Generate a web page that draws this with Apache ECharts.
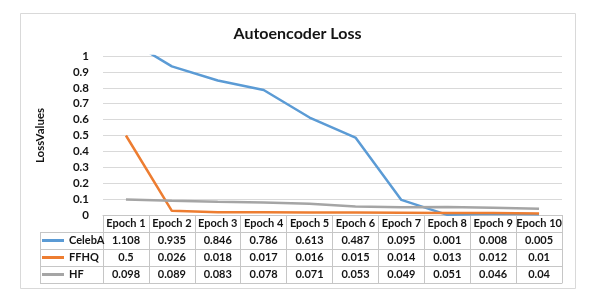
<!DOCTYPE html>
<html><head><meta charset="utf-8">
<script src="https://cdn.jsdelivr.net/npm/echarts@6/dist/echarts.min.js"></script>
<style>html,body{margin:0;padding:0;background:#fff}#c{width:595px;height:297px}</style>
</head><body><div id="c"></div>
<script>
const categories = ['Epoch 1','Epoch 2','Epoch 3','Epoch 4','Epoch 5','Epoch 6','Epoch 7','Epoch 8','Epoch 9','Epoch 10'];
const celebA = [1.108,0.935,0.846,0.786,0.613,0.487,0.095,0.001,0.008,0.005];
const ffhq   = [0.5,0.026,0.018,0.017,0.016,0.015,0.014,0.013,0.012,0.01];
const hf     = [0.098,0.089,0.083,0.078,0.071,0.053,0.049,0.051,0.046,0.04];
const seriesNames = ['CelebA','FFHQ','HF'];
const seriesColors = ['#5B9BD5','#ED7D31','#A5A5A5'];
const yMin = 0, yMax = 1, yStep = 0.1;

const W = 595, H = 297;
const gL = 103, gR = 562, gT = 56, gB = 215, rowH = 17;
const tableLeft = 40;
const font = 'Lato';
const txt = '#141414';
const border = '#c6c6c6';

const chart = echarts.init(document.getElementById('c'), null, {renderer:'canvas'});
const rows = [celebA, ffhq, hf];

const lbl = {show:true, interval:0, margin:0, lineHeight:rowH, color:txt, fontFamily:font, fontWeight:'bold', fontSize:11};
const xAxes = [{
  type:'category', data:categories, position:'bottom', boundaryGap:true,
  axisLine:{show:true, lineStyle:{color:border, width:1}},
  axisTick:{show:true, length:rowH*4, lineStyle:{color:border}},
  axisLabel:lbl
}];
rows.forEach((r,i)=>{
  xAxes.push({
    type:'category', data:r.map(v=>String(v)), position:'bottom', offset:rowH*(i+1), boundaryGap:true,
    axisLine:{show:true, lineStyle:{color:border, width:1}},
    axisTick:{show:false},
    axisLabel:lbl
  });
});
xAxes.push({
  type:'category', data:categories, position:'bottom', offset:rowH*4, boundaryGap:true,
  axisLine:{show:true, lineStyle:{color:border, width:1}},
  axisTick:{show:false}, axisLabel:{show:false}
});

const graphic = [
  {type:'rect', shape:{x:20.5, y:13.5, width:555, height:275}, style:{fill:'none', stroke:'#d9d9d9', lineWidth:1}, silent:true}
];
for (let k=1;k<=4;k++){
  const y = gB + rowH*k + 0.5;
  graphic.push({type:'line', shape:{x1:tableLeft, y1:y, x2:gL, y2:y}, style:{stroke:border, lineWidth:1}, silent:true});
}
graphic.push({type:'line', shape:{x1:tableLeft+0.5, y1:gB+rowH, x2:tableLeft+0.5, y2:gB+rowH*4}, style:{stroke:border, lineWidth:1}, silent:true});

chart.setOption({
  backgroundColor:'#fff',
  animation:false,
  title:{text:'Autoencoder Loss', left:'center', top:21, textStyle:{fontFamily:font, fontWeight:'bold', fontSize:16, color:txt}},
  grid:{left:gL, right:W-gR, top:gT, bottom:H-gB, containLabel:false},
  legend:{
    orient:'vertical', left:tableLeft+2, top:gB+rowH, padding:0, itemGap:0,
    itemWidth:22, itemHeight:3, icon:'rect',
    data:seriesNames,
    textStyle:{fontFamily:font, fontWeight:'bold', fontSize:11, color:txt, lineHeight:rowH, height:rowH}
  },
  xAxis: xAxes,
  yAxis:{
    type:'value', min:yMin, max:yMax, interval:yStep,
    name:'LossValues', nameLocation:'middle', nameGap:57, nameRotate:90,
    nameTextStyle:{fontFamily:font, fontWeight:'bold', fontSize:11.5, color:txt},
    axisLine:{show:false}, axisTick:{show:false},
    axisLabel:{color:txt, fontFamily:font, fontWeight:'bold', fontSize:11.5, margin:14},
    splitLine:{lineStyle:{color:'#d9d9d9', width:1}}
  },
  series: seriesNames.map((n,i)=>({
    name:n, type:'line', data:rows[i], xAxisIndex:0, symbol:'none', clip:true,
    lineStyle:{color:seriesColors[i], width:2.5}, itemStyle:{color:seriesColors[i]}
  })),
  graphic: graphic
});
</script></body></html>
